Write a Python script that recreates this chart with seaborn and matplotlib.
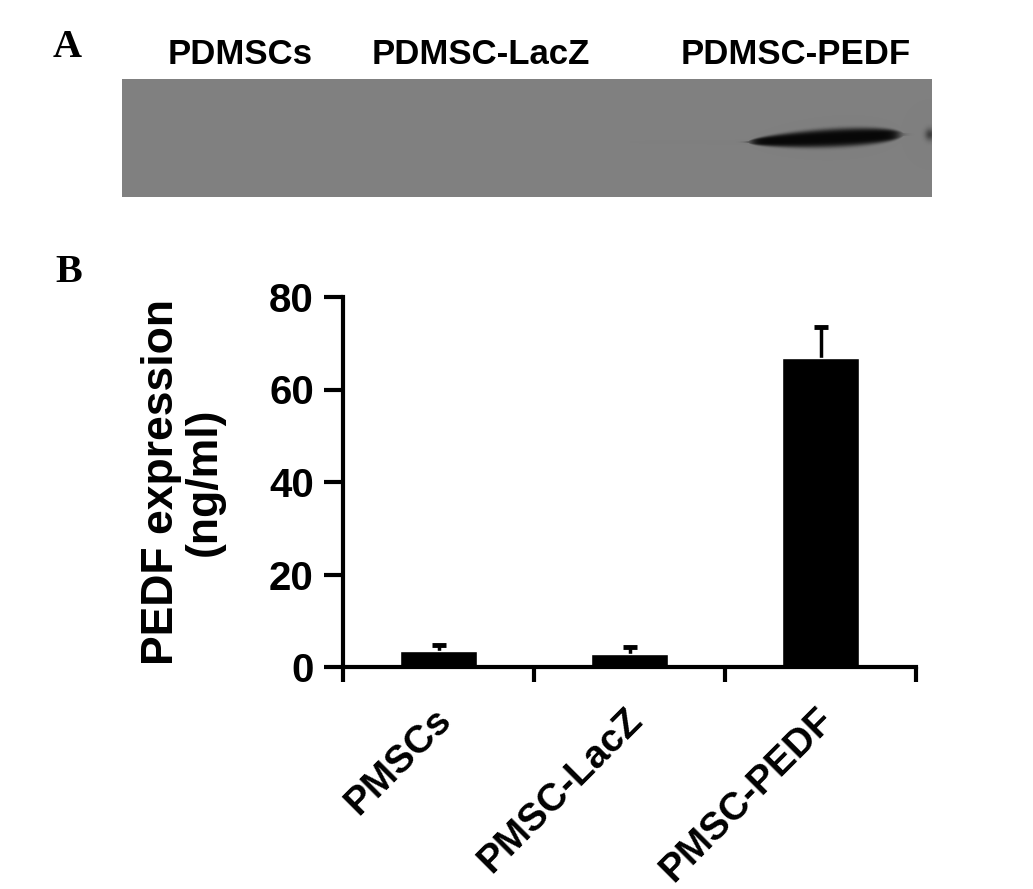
import numpy as np
import pandas as pd
import matplotlib
matplotlib.use('Agg')
import matplotlib.pyplot as plt
import matplotlib.transforms as mtransforms
import seaborn as sns

# panel B values
groups = ['PMSCs', 'PMSC-LacZ', 'PMSC-PEDF']
pedf = [3.5, 2.8, 66.8]
pedf_err = [1.2, 1.5, 6.8]
y_ticks = [0, 20, 40, 60, 80]

# panel A lane labels
lanes = ['PDMSCs', 'PDMSC-LacZ', 'PDMSC-PEDF']

sns.set_theme(style='white')
plt.rcParams['font.family'] = ['Liberation Sans', 'DejaVu Sans']
plt.rcParams['font.weight'] = 'bold'
plt.rcParams['text.color'] = 'black'
plt.rcParams['axes.labelcolor'] = 'black'
plt.rcParams['xtick.color'] = 'black'
plt.rcParams['ytick.color'] = 'black'

fig = plt.figure(figsize=(10.33, 8.89), dpi=100)
W, H = 1033, 889

# ---- panel A: blot ----
axa = fig.add_axes([122 / W, 1 - 197 / H, 810 / W, 118 / H])
nx, ny = 810, 118
xx, yy = np.meshgrid(np.linspace(0, 1, nx), np.linspace(0, 1, ny))
img = np.full((ny, nx), 0.50)
# band in the PEDF lane
x0, x1 = 0.773, 0.966
t = np.clip((xx - x0) / (x1 - x0), 0, 1)
yc = 0.535 - 0.065 * t
sig = (0.062 + 0.03 * t) * np.clip(np.sin(np.pi * np.clip(t, 0.001, 0.999)) ** 0.45, 0.15, 1)
edge = 1 / (1 + np.exp(-(xx - x0 - 0.004) / 0.004)) * 1 / (1 + np.exp((xx - x1 + 0.006) / 0.004))
band = np.exp(-((yy - yc) / sig) ** 4) * edge
img = img - 0.47 * band
# small spot at the right edge
spot = np.exp(-(((xx - 0.998) / 0.006) ** 2 + ((yy - 0.47) / 0.05) ** 2))
img = img - 0.25 * spot
axa.imshow(img, cmap='gray', vmin=0, vmax=1, aspect='auto', interpolation='bilinear')
axa.set_axis_off()

lane_x = [240, 481, 796]
for lab, lx in zip(lanes, lane_x):
    fig.text(lx / W, 1 - 64 / H, lab, ha='center', va='baseline',
             fontsize=25, fontweight='bold', color='black')

fig.text(53 / W, 1 - 57 / H, 'A', fontsize=29, fontweight='bold', color='black',
         family=['Liberation Serif', 'DejaVu Serif'], va='baseline', ha='left')
fig.text(55 / W, 1 - 282 / H, 'B', fontsize=29, fontweight='bold', color='black',
         family=['Liberation Serif', 'DejaVu Serif'], va='baseline', ha='left')

# ---- panel B: bar chart ----
ax = fig.add_axes([343 / W, 1 - 667 / H, (916 - 343) / W, (667 - 297) / H])
df = pd.DataFrame({'group': groups, 'pedf': pedf})
sns.barplot(data=df, x='group', y='pedf', color='black', width=0.4,
            saturation=1, errorbar=None, ax=ax, zorder=2)
eb = ax.errorbar(range(len(groups)), pedf, yerr=[np.zeros(len(groups)), pedf_err],
                 fmt='none', ecolor='black', elinewidth=2.5, capsize=5, capthick=3.5, zorder=1)
eb[1][0].set_visible(False)  # no lower caps

ax.set_xlim(-0.5, 2.5)
ax.set_ylim(0, 80)
ax.set_yticks(y_ticks)
ax.set_xticks(np.arange(-0.5, 3, 1), minor=True)
sns.despine(ax=ax)
for s in ['left', 'bottom']:
    ax.spines[s].set_linewidth(3)
    ax.spines[s].set_color('black')

ax.tick_params(axis='y', which='major', direction='out', length=14, width=3,
               color='black', labelsize=29, pad=7, left=True, labelcolor='black')
ax.tick_params(axis='x', which='minor', direction='out', length=11, width=3,
               color='black', bottom=True)
ax.tick_params(axis='x', which='major', length=0, labelsize=28, pad=25, labelcolor='black')

for lab in ax.get_yticklabels():
    lab.set_fontweight('bold')
offset = mtransforms.ScaledTranslation(0.2, 0, fig.dpi_scale_trans)
for lab in ax.get_xticklabels():
    lab.set_rotation(45)
    lab.set_ha('right')
    lab.set_va('top')
    lab.set_fontweight('bold')
    lab.set_transform(lab.get_transform() + offset)

ax.set_xlabel('')
ax.set_ylabel('PEDF expression\n(ng/ml)', fontsize=32, fontweight='bold',
              linespacing=1.05, color='black')
ax.yaxis.set_label_coords(-0.206, 0.5)
ax.yaxis.label.set_va('bottom')

fig.savefig('out.png', dpi=100)
